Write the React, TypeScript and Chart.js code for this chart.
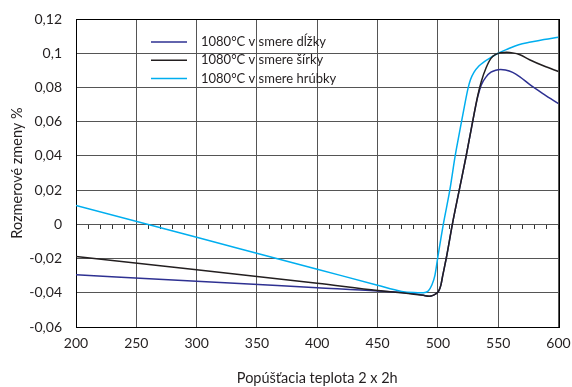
import React, { useEffect, useRef } from 'react';
import { Chart, registerables } from 'chart.js';

Chart.register(...registerables);

const seriesLabels = ['1080°C v smere dĺžky', '1080°C v smere šírky', '1080°C v smere hrúbky'];
const seriesColors = ['#2e3192', '#231f20', '#00aeef'];

const dlzkyX = [200, 300, 400, 450, 480, 488, 493, 496, 498.5, 500.5, 502.5, 504, 507.3, 512, 518, 523.4, 528, 533, 536, 540, 544, 548, 552, 556, 562, 568, 576, 588, 600];
const dlzkyY = [-0.0295, -0.0332, -0.037, -0.0389, -0.0405, -0.0415, -0.042, -0.0415, -0.0405, -0.0392, -0.0355, -0.03, -0.0185, 0, 0.021, 0.0398, 0.057, 0.0745, 0.0815, 0.0862, 0.0889, 0.0901, 0.0905, 0.0902, 0.0888, 0.0862, 0.0818, 0.076, 0.0705];

const sirkyX = [200, 300, 400, 450, 480, 488, 493, 496, 498.5, 500.5, 502.5, 504, 507.3, 512, 518, 523.4, 528, 533, 536, 540, 544, 548, 552, 557, 562, 568, 576, 588, 600];
const sirkyY = [-0.0188, -0.0266, -0.0344, -0.0387, -0.0408, -0.0415, -0.042, -0.0415, -0.0405, -0.0392, -0.0355, -0.03, -0.0185, 0, 0.021, 0.0398, 0.057, 0.075, 0.0835, 0.0915, 0.097, 0.0993, 0.1003, 0.1005, 0.1002, 0.0991, 0.0962, 0.0925, 0.0893];

const hrubkyX = [200, 300, 400, 450, 470, 480, 488, 492, 495, 497.5, 500, 504.5, 510, 514.3, 518, 522, 525, 527, 530, 534, 538, 544, 550, 558, 567, 577, 588, 600];
const hrubkyY = [0.011, -0.0076, -0.0262, -0.0356, -0.0392, -0.0399, -0.04, -0.039, -0.0355, -0.03, -0.019, 0, 0.0204, 0.0398, 0.054, 0.069, 0.0795, 0.0845, 0.0889, 0.0925, 0.0948, 0.0975, 0.1, 0.1025, 0.105, 0.1065, 0.108, 0.1094];

const xTickValues = [200, 250, 300, 350, 400, 450, 500, 550, 600];
const yTickValues = [-0.06, -0.04, -0.02, 0, 0.02, 0.04, 0.06, 0.08, 0.1, 0.12];
const yTickLabels = ['-0,06', '-0,04', '-0,02', '0', '0,02', '0,04', '0,06', '0,08', '0,1', '0,12'];

const xTitle = 'Popúšťacia teplota 2 x 2h';
const yTitle = 'Rozmerové zmeny %';

const FONT = 'Lato, "Open Sans", sans-serif';
const TEXT = '#231f20';

function pts(xs: number[], ys: number[]) {
  return xs.map((x, i) => ({ x, y: ys[i] }));
}

const framePlugin = {
  id: 'frame',
  beforeDatasetsDraw(chart: any) {
    const { ctx, chartArea: a } = chart;
    ctx.save();
    ctx.strokeStyle = '#000';
    ctx.lineWidth = 1;
    ctx.strokeRect(Math.round(a.left) + 0.5, Math.round(a.top) + 0.5, Math.round(a.right - a.left), Math.round(a.bottom - a.top));
    ctx.restore();
  },
};

const innerLegend = {
  id: 'innerLegend',
  afterDraw(chart: any) {
    const { ctx, chartArea: a } = chart;
    ctx.save();
    ctx.font = `13px ${FONT}`;
    ctx.textBaseline = 'middle';
    ctx.textAlign = 'left';
    chart.data.datasets.forEach((ds: any, i: number) => {
      const y = a.top + 23 + i * 18.3;
      ctx.strokeStyle = ds.borderColor;
      ctx.lineWidth = 1.5;
      ctx.beginPath();
      ctx.moveTo(a.left + 75, y);
      ctx.lineTo(a.left + 111, y);
      ctx.stroke();
      ctx.fillStyle = TEXT;
      ctx.fillText(ds.label, a.left + 125, y);
    });
    ctx.restore();
  },
};

export default function App() {
  const ref = useRef<HTMLCanvasElement>(null);
  useEffect(() => {
    document.body.style.margin = '0';
    const canvas = ref.current!;
    const tickFont = { family: FONT, size: 14 };
    const titleFont = { family: FONT, size: 14.5 };
    const chart = new Chart(canvas, {
      type: 'line',
      data: {
        datasets: [
          { label: seriesLabels[0], data: pts(dlzkyX, dlzkyY), borderColor: seriesColors[0], borderWidth: 1.5, order: 2, cubicInterpolationMode: 'monotone' },
          { label: seriesLabels[1], data: pts(sirkyX, sirkyY), borderColor: seriesColors[1], borderWidth: 1.5, order: 0, cubicInterpolationMode: 'monotone' },
          { label: seriesLabels[2], data: pts(hrubkyX, hrubkyY), borderColor: seriesColors[2], borderWidth: 1.5, order: 1, cubicInterpolationMode: 'monotone' },
        ] as any,
      },
      options: {
        responsive: false,
        animation: false,
        devicePixelRatio: 1,
        layout: { padding: { top: 19, right: 13.5, left: 0, bottom: 0 } },
        elements: { point: { radius: 0 } },
        plugins: { legend: { display: false }, tooltip: { enabled: false } },
        scales: {
          x: {
            type: 'linear',
            min: 200,
            max: 600,
            afterBuildTicks: (s: any) => { s.ticks = xTickValues.map((v) => ({ value: v })); },
            afterFit: (s: any) => { s.height = 60; s.paddingRight = 0; s.paddingLeft = 0; },
            grid: { color: '#555', lineWidth: 1, drawTicks: false },
            border: { color: '#000' },
            ticks: { padding: 7.6, color: TEXT, font: tickFont, maxRotation: 0, autoSkip: false, callback: (v: any) => String(v) },
            title: { display: true, text: xTitle, color: TEXT, font: titleFont, padding: { top: 0, bottom: 0.3 } },
          },
          x2: {
            type: 'linear',
            position: { y: 0 },
            min: 200,
            max: 600,
            ticks: { display: false, stepSize: 10, maxTicksLimit: 1000, autoSkip: false },
            grid: { drawOnChartArea: false, drawTicks: true, tickLength: 5, color: '#333' },
            border: { display: false },
          },
          y: {
            type: 'linear',
            min: -0.06,
            max: 0.12,
            afterBuildTicks: (s: any) => { s.ticks = yTickValues.map((v) => ({ value: v })); },
            afterFit: (s: any) => { s.width = 76; s.paddingTop = 0; s.paddingBottom = 0; },
            grid: { color: '#555', lineWidth: 1, drawTicks: false },
            border: { color: '#000' },
            ticks: { padding: 14, color: TEXT, font: tickFont, callback: (_v: any, i: number) => yTickLabels[i] },
            title: { display: true, text: yTitle, color: TEXT, font: titleFont, padding: { top: 8.8, bottom: 0 } },
          },
        },
      } as any,
      plugins: [framePlugin, innerLegend],
    });
    return () => chart.destroy();
  }, []);
  return (
    <div style={{ width: 572, height: 387 }}>
      <canvas ref={ref} width={572} height={387} style={{ display: 'block' }} />
    </div>
  );
}
